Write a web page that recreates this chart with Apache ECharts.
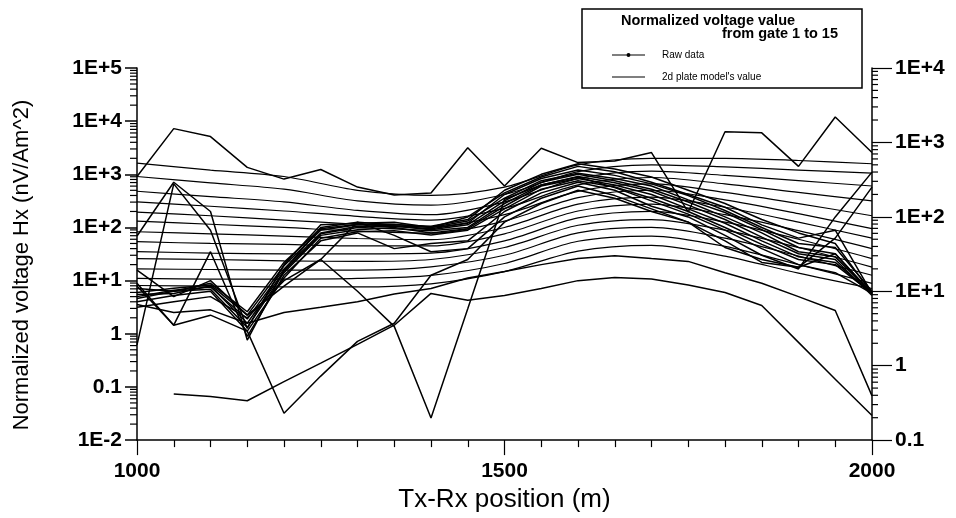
<!DOCTYPE html>
<html>
<head>
<meta charset="utf-8">
<script src="https://cdn.jsdelivr.net/npm/echarts@6/dist/echarts.min.js"></script>
<style>
  html, body { margin: 0; padding: 0; background: #fff; }
  #chart { width: 956px; height: 518px; }
</style>
</head>
<body>
<div id="chart"></div>
<script>
// Station positions (m)
const positions50 = [1000, 1050, 1100, 1150, 1200, 1250, 1300, 1350, 1400, 1450, 1500,
                     1550, 1600, 1650, 1700, 1750, 1800, 1850, 1900, 1950, 2000];
const positions100 = [1000, 1100, 1200, 1300, 1400, 1500, 1600, 1700, 1800, 1900, 2000];

// Measured (raw) normalized voltages, gates 1-15, one value per 50 m station
const rawGate1  = [910, 7240, 5130, 1350, 813, 1230, 575, 407, 447, 3160, 603, 3090, 1660, 1780, 2570, 195, 6310, 6030, 1410, 12000, 2570];
const rawGate2  = [69, 708, 200, 0.76, 15.8, 100, 126, 112, 105, 141, 501, 1000, 1580, 1260, 891, 501, 282, 141, 79, 50, 5.75];
const rawGate3  = [0.62, 661, 89, 1.26, 20, 112, 120, 126, 100, 158, 447, 891, 1410, 1120, 708, 417, 240, 112, 63, 89, 5.75];
const rawGate4  = [7.1, 6.3, 8.9, 2.6, 22, 95, 115, 105, 95, 120, 417, 832, 1200, 955, 661, 398, 209, 100, 50, 42, 6.3];
const rawGate5  = [6.0, 7.2, 8.3, 2.24, 19, 89, 112, 115, 100, 132, 355, 759, 1050, 832, 603, 331, 191, 91, 42, 32, 5.75];
const rawGate6  = [5.0, 6.6, 7.6, 1.9, 16.6, 79, 105, 107, 91, 112, 316, 708, 1000, 759, 525, 302, 158, 79, 35, 28, 5.75];
const rawGate7  = [5.5, 5.75, 7.9, 1.58, 15.1, 76, 100, 95, 87, 100, 282, 631, 912, 692, 479, 263, 141, 66, 32, 25, 5.25];
const rawGate8  = [4.6, 6.3, 6.9, 1.32, 14.1, 71, 91, 100, 79, 95, 251, 603, 832, 631, 417, 224, 120, 56, 28, 22, 5.75];
const rawGate9  = [4.0, 5.25, 6.3, 1.12, 11.2, 63, 83, 87, 72, 89, 224, 525, 759, 575, 355, 200, 100, 48, 25, 20, 5.75];
const rawGate10 = [8.9, 1.45, 35, 0.89, 12.6, 56, 79, 40, 50, 56, 200, 447, 708, 501, 251, 158, 71, 30, 16.6, 158, 1100];
const rawGate11 = [15.8, 5.0, 10, 2.24, 7.9, 25, 126, 71, 35, 40, 158, 355, 603, 398, 224, 126, 56, 22, 17.8, 63, 575];
const rawGate12 = [7.9, 1.45, 2.24, 1.12, 0.032, 0.16, 0.72, 1.58, 12.6, 25, 126, 282, 501, 355, 200, 126, 42, 25, 17.8, 32, 5.75];
const rawGate13 = [3.16, 4.0, 5.0, 2.0, 10, 25, 6.3, 1.38, 0.026, 2.95, 339, 631, 891, 562, 316, 178, 89, 40, 20, 14.1, 5.75];
const rawGate14 = [3.55, 2.51, 2.82, 1.58, 2.51, 3.16, 4.0, 5.6, 7.1, 11.2, 14.8, 20, 26, 29.5, 26, 23, 14.1, 8.9, 5.0, 2.75, 0.068];
const rawGate15 = [null, 0.074, 0.066, 0.055, 0.126, 0.28, 0.63, 1.45, 5.75, 4.27, 5.25, 7.1, 10, 11.5, 10.7, 8.3, 6.0, 3.4, 0.69, 0.14, 0.029];

// 2-D plate model response, one value per 100 m station
const modelGate1  = [1620, 1200, 910, 500, 400, 575, 1510, 2000, 2000, 1820, 1580];
const modelGate2  = [910, 690, 525, 316, 263, 417, 1120, 1510, 1380, 1200, 1050];
const modelGate3  = [480, 380, 302, 209, 174, 302, 832, 1150, 955, 759, 603];
const modelGate4  = [302, 251, 204, 162, 138, 229, 631, 871, 661, 457, 316];
const modelGate5  = [195, 166, 138, 115, 102, 174, 479, 661, 457, 282, 166];
const modelGate6  = [132, 115, 100, 85, 78, 132, 363, 501, 331, 182, 95];
const modelGate7  = [83, 76, 69, 62, 59, 100, 275, 372, 240, 126, 63];
const modelGate8  = [54, 50, 48, 45, 45, 76, 204, 275, 174, 87, 40];
const modelGate9  = [35, 33, 32, 32, 33, 56, 151, 200, 126, 60, 26];
const modelGate10 = [26, 25, 23.5, 23, 25, 42, 110, 141, 89, 42, 18];
const modelGate11 = [16.6, 16.2, 15.8, 15.8, 18.2, 30, 79, 100, 63, 29, 12.6];
const modelGate12 = [11, 10.7, 10.7, 11, 12.6, 21, 55, 69, 44, 20, 8.9];
const modelGate13 = [8.1, 7.9, 7.6, 7.6, 8.7, 14.8, 36, 46, 29, 13.8, 7.1];

// Tick labels
const leftTickLabels  = ['1E-2', '0.1', '1', '1E+1', '1E+2', '1E+3', '1E+4', '1E+5'];
const rightTickLabels = ['0.1', '1', '1E+1', '1E+2', '1E+3', '1E+4'];
const xTickLabels = { 1000: '1000', 1500: '1500', 2000: '2000' };

// Log-axis minor tick multipliers and decades covered by each axis
const minorMultipliers = [2, 3, 4, 5, 6, 7, 8, 9];
const leftDecades  = [0.01, 0.1, 1, 10, 100, 1000, 10000];
const rightDecades = [0.1, 1, 10, 100, 1000];

const RAW_NAME = 'Raw data';
const MODEL_NAME = "2d plate model's value";
const FONT = "'Liberation Sans', Arial, sans-serif";

// Legend sample icons (33 x 6 box): a plain line, and a line with a dot
const MODEL_ICON = 'path://M0,0M33,6M0,2.5H33V3.5H0Z';
const RAW_ICON = 'path://M0,0M33,6M0,2.4H33V3.6H0Z M14.5,3A2,2 0 1,1 18.5,3A2,2 0 1,1 14.5,3Z';

const rawGates = [rawGate1, rawGate2, rawGate3, rawGate4, rawGate5, rawGate6, rawGate7, rawGate8,
                  rawGate9, rawGate10, rawGate11, rawGate12, rawGate13, rawGate14, rawGate15];
const modelGates = [modelGate1, modelGate2, modelGate3, modelGate4, modelGate5, modelGate6, modelGate7,
                    modelGate8, modelGate9, modelGate10, modelGate11, modelGate12, modelGate13];

const series = [];

modelGates.forEach(function (vals) {
  series.push({
    name: MODEL_NAME,
    type: 'line',
    xAxisIndex: 0,
    yAxisIndex: 0,
    smooth: 0.3,
    symbol: 'none',
    lineStyle: { color: '#000', width: 1.2 },
    itemStyle: { color: '#000' },
    emphasis: { disabled: true },
    data: positions100.map(function (x, i) { return [x, vals[i]]; })
  });
});

rawGates.forEach(function (vals) {
  series.push({
    name: RAW_NAME,
    type: 'line',
    xAxisIndex: 0,
    yAxisIndex: 0,
    symbol: 'circle',
    symbolSize: 3,
    showSymbol: false,
    lineStyle: { color: '#000', width: 1.5 },
    itemStyle: { color: '#000' },
    emphasis: { disabled: true },
    data: positions50
      .map(function (x, i) { return [x, vals[i]]; })
      .filter(function (p) { return p[1] != null; })
  });
});

// Minor ticks of both logarithmic axes, drawn outward from each axis line
function minorTickSeries(decades, yAxisIndex, xAt, dir, len) {
  const data = [];
  decades.forEach(function (d) {
    minorMultipliers.forEach(function (m) { data.push([xAt, d * m]); });
  });
  return {
    type: 'custom',
    xAxisIndex: 0,
    yAxisIndex: yAxisIndex,
    silent: true,
    clip: false,
    data: data,
    renderItem: function (params, api) {
      const p = api.coord([api.value(0), api.value(1)]);
      return {
        type: 'line',
        shape: { x1: p[0], y1: p[1], x2: p[0] + dir * len, y2: p[1] },
        style: { stroke: '#000', lineWidth: 1.2 }
      };
    }
  };
}
series.push(minorTickSeries(leftDecades, 0, 1000, -1, 7));
series.push(minorTickSeries(rightDecades, 1, 2000, 1, 6));

const chart = echarts.init(document.getElementById('chart'), null, { renderer: 'canvas' });

chart.setOption({
  animation: false,
  backgroundColor: '#fff',
  textStyle: { fontFamily: FONT, color: '#000' },
  grid: { left: 137, right: 84, top: 68, bottom: 76, containLabel: false },
  legend: {
    data: [
      { name: RAW_NAME, icon: RAW_ICON },
      { name: MODEL_NAME, icon: MODEL_ICON }
    ],
    orient: 'vertical',
    left: 607,
    top: 44,
    itemWidth: 33,
    itemHeight: 6,
    itemGap: 10,
    selectedMode: false,
    textStyle: { fontFamily: FONT, fontSize: 10, color: '#000', lineHeight: 12, padding: [0, 0, 0, 12] }
  },
  xAxis: {
    type: 'value',
    min: 1000,
    max: 2000,
    interval: 500,
    name: 'Tx-Rx position (m)',
    nameLocation: 'middle',
    nameGap: 37,
    nameTextStyle: { fontFamily: FONT, fontSize: 26, color: '#000' },
    axisLine: { show: true, onZero: false, lineStyle: { color: '#000', width: 1.5 } },
    axisTick: { show: true, inside: false, length: 15, lineStyle: { color: '#000', width: 1.2 } },
    minorTick: { show: true, splitNumber: 10, length: 7, lineStyle: { color: '#000', width: 1.2 } },
    splitLine: { show: false },
    minorSplitLine: { show: false },
    axisLabel: {
      margin: 21,
      fontFamily: FONT,
      fontSize: 21,
      fontWeight: 'bold',
      color: '#000',
      formatter: function (v) { return xTickLabels[v] || ''; }
    }
  },
  yAxis: [
    {
      type: 'log',
      logBase: 10,
      min: 0.01,
      max: 100000,
      splitNumber: 7,
      position: 'left',
      axisLine: { show: true, lineStyle: { color: '#000', width: 1.5 } },
      axisTick: { show: true, inside: false, length: 12, lineStyle: { color: '#000', width: 1.5 } },
      splitLine: { show: false },
      axisLabel: {
        margin: 15,
        fontFamily: FONT,
        fontSize: 21,
        fontWeight: 'bold',
        color: '#000',
        formatter: function (v) { return leftTickLabels[Math.round(Math.log10(v)) + 2]; }
      }
    },
    {
      type: 'log',
      logBase: 10,
      min: 0.1,
      max: 10000,
      splitNumber: 5,
      position: 'right',
      axisLine: { show: true, lineStyle: { color: '#000', width: 1.5 } },
      axisTick: { show: true, inside: false, length: 20, lineStyle: { color: '#000', width: 1.2 } },
      splitLine: { show: false },
      axisLabel: {
        margin: 23,
        fontFamily: FONT,
        fontSize: 21,
        fontWeight: 'bold',
        color: '#000',
        formatter: function (v) { return rightTickLabels[Math.round(Math.log10(v)) + 1]; }
      }
    }
  ],
  graphic: [
    {
      type: 'text',
      x: 22,
      y: 265,
      rotation: Math.PI / 2,
      style: {
        text: 'Normalized voltage Hx (nV/Am^2)',
        font: '22px ' + FONT,
        fill: '#000',
        align: 'center',
        verticalAlign: 'middle'
      }
    },
    {
      type: 'rect',
      z: -1,
      shape: { x: 582, y: 9, width: 280, height: 79 },
      style: { fill: '#fff', stroke: '#000', lineWidth: 1.5 }
    },
    {
      type: 'text',
      x: 621,
      y: 21,
      style: {
        text: 'Normalized voltage value',
        font: 'bold 14.5px ' + FONT,
        fill: '#000',
        align: 'left',
        verticalAlign: 'middle'
      }
    },
    {
      type: 'text',
      x: 838,
      y: 34,
      style: {
        text: 'from gate 1 to 15',
        font: 'bold 14.5px ' + FONT,
        fill: '#000',
        align: 'right',
        verticalAlign: 'middle'
      }
    }
  ],
  series: series
});
</script>
</body>
</html>
